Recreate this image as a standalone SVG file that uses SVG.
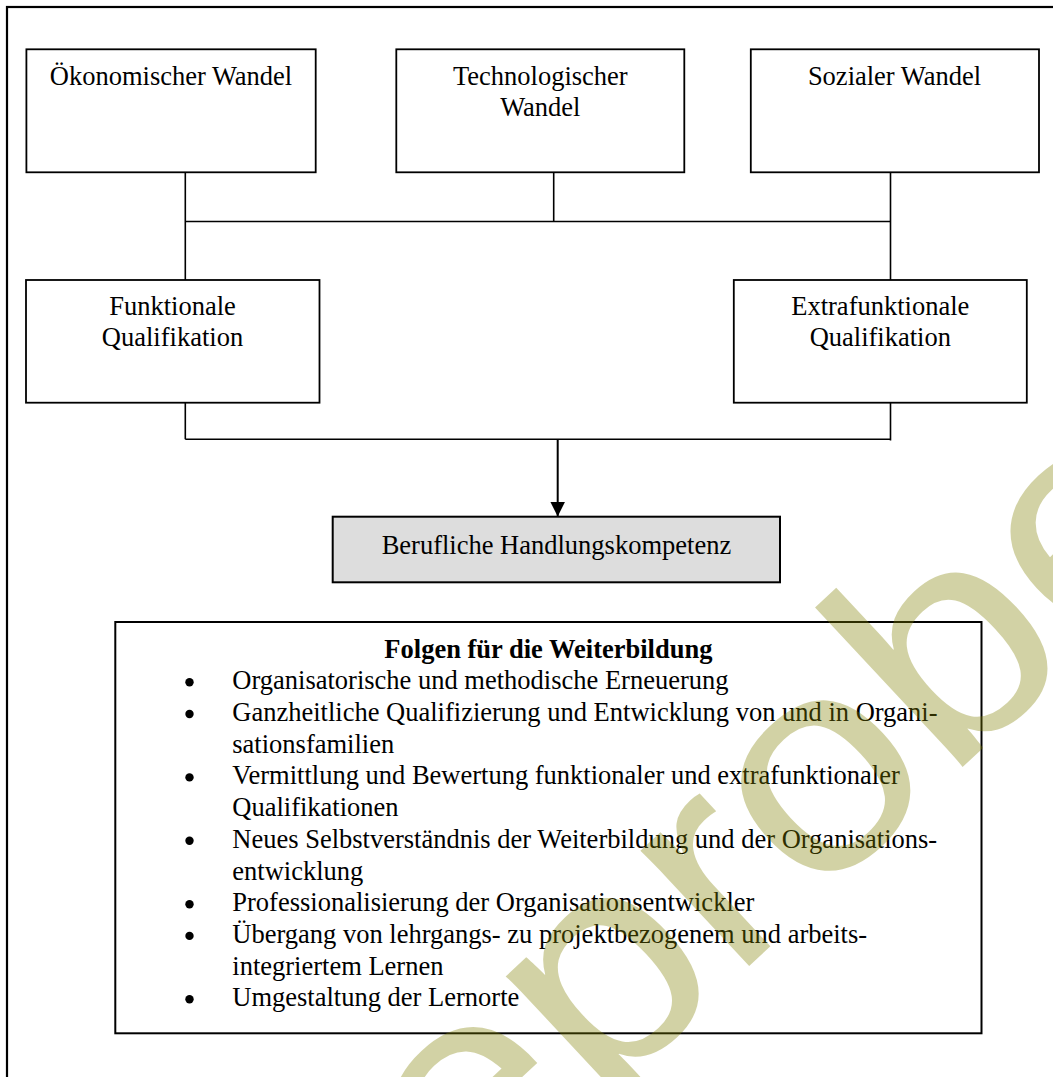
<svg xmlns="http://www.w3.org/2000/svg" width="1053" height="1077" viewBox="0 0 1053 1077">
<defs>
<marker id="arr" markerWidth="16" markerHeight="16" refX="15" refY="7.5" orient="auto" markerUnits="userSpaceOnUse">
<path d="M0,0 L15,7.5 L0,15 Z" fill="#000"/>
</marker>
</defs>
<style>
.box{fill:#fff;stroke:#000;stroke-width:1.8}
.t{font-family:"Liberation Serif","Times New Roman",serif;font-size:26.5px;fill:#000}
.c{text-anchor:middle}
.ln{stroke:#000;stroke-width:1.6;fill:none}
.wm{font-family:"Liberation Sans",Arial,sans-serif;font-size:300px;fill:#818100;opacity:0.35}
</style>
<rect width="1053" height="1077" fill="#fff"/>
<rect x="7" y="7" width="1100" height="1100" fill="none" stroke="#000" stroke-width="2.2"/>

<g id="connectors">
<path class="ln" d="M185.3,172.3 V280 M553.7,172.3 V221.5 M890.5,172.3 V280 M185.3,221.5 H890.5"/>
<path class="ln" d="M185.3,402.7 V439.3 M890.5,402.7 V440.5 M185.3,439.3 H890.5"/>
<line x1="557.7" y1="439.3" x2="557.7" y2="516.5" stroke="#000" stroke-width="2" marker-end="url(#arr)"/>
</g>

<g id="oekonomisch">
<rect class="box" x="26.4" y="49.3" width="289.3" height="123"/>
<text class="t c" x="171" y="85">Ökonomischer Wandel</text>
</g>
<g id="technologisch">
<rect class="box" x="396.3" y="49.3" width="288" height="123"/>
<text class="t c" x="540.3" y="85">Technologischer</text>
<text class="t c" x="540.3" y="116">Wandel</text>
</g>
<g id="sozial">
<rect class="box" x="750.8" y="49.3" width="288.2" height="123"/>
<text class="t c" x="894.5" y="85">Sozialer Wandel</text>
</g>
<g id="funktional">
<rect class="box" x="26" y="280" width="293.5" height="122.7"/>
<text class="t c" x="172.5" y="315">Funktionale</text>
<text class="t c" x="172.5" y="346">Qualifikation</text>
</g>
<g id="extrafunktional">
<rect class="box" x="733.8" y="280" width="293" height="122.7"/>
<text class="t c" x="880.3" y="315">Extrafunktionale</text>
<text class="t c" x="880.3" y="346">Qualifikation</text>
</g>
<g id="handlungskompetenz">
<rect x="332.7" y="516.7" width="447.3" height="65.6" fill="#dddddd" stroke="#000" stroke-width="2"/>
<text class="t c" x="556.4" y="554">Berufliche Handlungskompetenz</text>
</g>
<g id="folgen">
<rect x="115.3" y="622" width="866.2" height="411.3" fill="none" stroke="#000" stroke-width="2"/>
<text class="t c" x="548.4" y="658" font-weight="bold">Folgen für die Weiterbildung</text>
<g fill="#000">
<circle cx="189.5" cy="682.3" r="4.2"/>
<circle cx="189.5" cy="714" r="4.2"/>
<circle cx="189.5" cy="777.4" r="4.2"/>
<circle cx="189.5" cy="840.8" r="4.2"/>
<circle cx="189.5" cy="904.2" r="4.2"/>
<circle cx="189.5" cy="935.9" r="4.2"/>
<circle cx="189.5" cy="999.3" r="4.2"/>
</g>
<text class="t" x="232.3" y="689.3">Organisatorische und methodische Erneuerung</text>
<text class="t" x="232.3" y="721">Ganzheitliche Qualifizierung und Entwicklung von und in Organi-</text>
<text class="t" x="232.3" y="752.7">sationsfamilien</text>
<text class="t" x="232.3" y="784.4">Vermittlung und Bewertung funktionaler und extrafunktionaler</text>
<text class="t" x="232.3" y="816.1">Qualifikationen</text>
<text class="t" x="232.3" y="847.8">Neues Selbstverständnis der Weiterbildung und der Organisations-</text>
<text class="t" x="232.3" y="879.5">entwicklung</text>
<text class="t" x="232.3" y="911.2">Professionalisierung der Organisationsentwickler</text>
<text class="t" x="232.3" y="942.9">Übergang von lehrgangs- zu projektbezogenem und arbeits-</text>
<text class="t" x="232.3" y="974.6">integriertem Lernen</text>
<text class="t" x="232.3" y="1006.3">Umgestaltung der Lernorte</text>
</g>
<text class="wm" transform="translate(464,1232) rotate(-43) scale(1.1,1)">eprobe</text>
</svg>
